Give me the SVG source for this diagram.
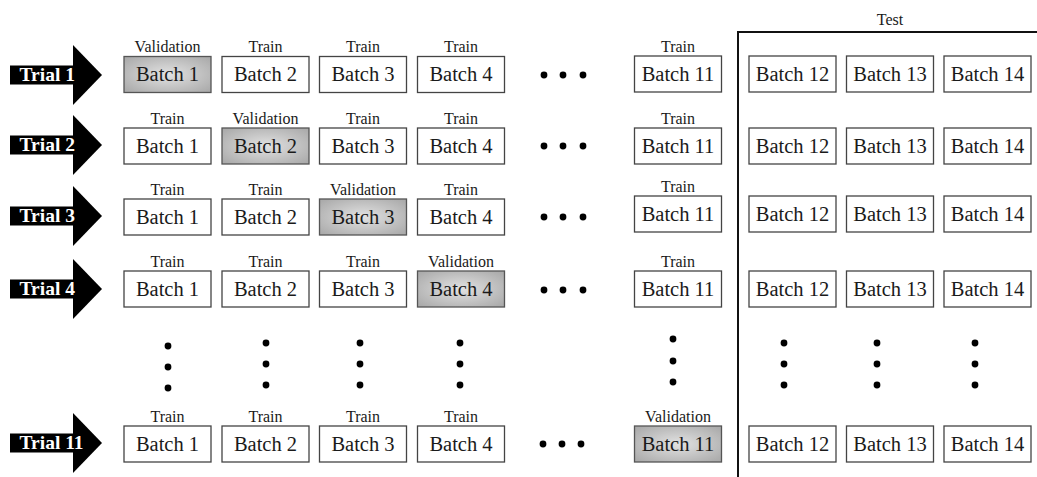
<svg xmlns="http://www.w3.org/2000/svg" width="1037" height="477" viewBox="0 0 1037 477">
  <defs>
    <radialGradient id="valFill" cx="50%" cy="50%" r="65%">
      <stop offset="0" stop-color="#e2e2e2"/>
      <stop offset="1" stop-color="#ababab"/>
    </radialGradient>
    <style>
      .box { fill: #fff; stroke: #444; stroke-width: 1.3; }
      .val { fill: url(#valFill); stroke: #555; stroke-width: 1.3; }
      .bt { font-family: "Liberation Serif", "Times New Roman", serif; font-size: 20.5px; fill: #1a1a1a; text-anchor: middle; }
      .lb { font-family: "Liberation Serif", "Times New Roman", serif; font-size: 16px; fill: #1a1a1a; text-anchor: middle; }
      .tr { font-family: "Liberation Serif", "Times New Roman", serif; font-size: 19.5px; font-weight: bold; fill: #fff; }
      .dot { fill: #000; }
      .arrow { fill: #000; }
    </style>
    <g id="arrowShape">
      <rect x="10" y="-9.5" width="64" height="19" class="arrow"/>
      <polygon points="73,-30 102,0 73,30" class="arrow"/>
    </g>
  </defs>

  <rect width="1037" height="477" fill="#fff"/>

  <!-- Test region bracket -->
  <g id="test-region">
    <path d="M738,477 V32 H1037" fill="none" stroke="#111" stroke-width="2"/>
    <text class="lb" x="890" y="25">Test</text>
  </g>

  <!-- Trial arrows -->
  <g id="trial-1"><use href="#arrowShape" transform="translate(0,75)"/><text class="tr" x="19.5" y="81">Trial 1</text></g>
  <g id="trial-2"><use href="#arrowShape" transform="translate(0,145)"/><text class="tr" x="19.5" y="151">Trial 2</text></g>
  <g id="trial-3"><use href="#arrowShape" transform="translate(0,216)"/><text class="tr" x="19.5" y="222">Trial 3</text></g>
  <g id="trial-4"><use href="#arrowShape" transform="translate(0,289)"/><text class="tr" x="19.5" y="295">Trial 4</text></g>
  <g id="trial-11"><use href="#arrowShape" transform="translate(0,443)"/><text class="tr" x="19.5" y="449">Trial 11</text></g>

  <!-- Row 1 -->
  <g id="r1-b1"><text class="lb" x="167.5" y="52">Validation</text><rect class="val" x="124" y="56.5" width="87" height="36"/><text class="bt" x="167.5" y="81">Batch 1</text></g>
  <g id="r1-b2"><text class="lb" x="265.5" y="52">Train</text><rect class="box" x="222" y="56.5" width="87" height="36"/><text class="bt" x="265.5" y="81">Batch 2</text></g>
  <g id="r1-b3"><text class="lb" x="363" y="52">Train</text><rect class="box" x="319.5" y="56.5" width="87" height="36"/><text class="bt" x="363" y="81">Batch 3</text></g>
  <g id="r1-b4"><text class="lb" x="461" y="52">Train</text><rect class="box" x="417.5" y="56.5" width="87" height="36"/><text class="bt" x="461" y="81">Batch 4</text></g>
  <g id="r1-b11"><text class="lb" x="678" y="51.5">Train</text><rect class="box" x="634.5" y="56" width="87" height="36"/><text class="bt" x="678" y="80.5">Batch 11</text></g>
  <g id="r1-b12"><rect class="box" x="749" y="56" width="87" height="36"/><text class="bt" x="792.5" y="80.5">Batch 12</text></g>
  <g id="r1-b13"><rect class="box" x="846.5" y="56" width="87" height="36"/><text class="bt" x="890" y="80.5">Batch 13</text></g>
  <g id="r1-b14"><rect class="box" x="944" y="56" width="87" height="36"/><text class="bt" x="987.5" y="80.5">Batch 14</text></g>

  <!-- Row 2 -->
  <g id="r2-b1"><text class="lb" x="167.5" y="123.5">Train</text><rect class="box" x="124" y="128" width="87" height="36"/><text class="bt" x="167.5" y="152.5">Batch 1</text></g>
  <g id="r2-b2"><text class="lb" x="265.5" y="123.5">Validation</text><rect class="val" x="222" y="128" width="87" height="36"/><text class="bt" x="265.5" y="152.5">Batch 2</text></g>
  <g id="r2-b3"><text class="lb" x="363" y="123.5">Train</text><rect class="box" x="319.5" y="128" width="87" height="36"/><text class="bt" x="363" y="152.5">Batch 3</text></g>
  <g id="r2-b4"><text class="lb" x="461" y="123.5">Train</text><rect class="box" x="417.5" y="128" width="87" height="36"/><text class="bt" x="461" y="152.5">Batch 4</text></g>
  <g id="r2-b11"><text class="lb" x="678" y="123.5">Train</text><rect class="box" x="634.5" y="128" width="87" height="36"/><text class="bt" x="678" y="152.5">Batch 11</text></g>
  <g id="r2-b12"><rect class="box" x="749" y="128" width="87" height="36"/><text class="bt" x="792.5" y="152.5">Batch 12</text></g>
  <g id="r2-b13"><rect class="box" x="846.5" y="128" width="87" height="36"/><text class="bt" x="890" y="152.5">Batch 13</text></g>
  <g id="r2-b14"><rect class="box" x="944" y="128" width="87" height="36"/><text class="bt" x="987.5" y="152.5">Batch 14</text></g>

  <!-- Row 3 -->
  <g id="r3-b1"><text class="lb" x="167.5" y="194.5">Train</text><rect class="box" x="124" y="199" width="87" height="36"/><text class="bt" x="167.5" y="223.5">Batch 1</text></g>
  <g id="r3-b2"><text class="lb" x="265.5" y="194.5">Train</text><rect class="box" x="222" y="199" width="87" height="36"/><text class="bt" x="265.5" y="223.5">Batch 2</text></g>
  <g id="r3-b3"><text class="lb" x="363" y="194.5">Validation</text><rect class="val" x="319.5" y="199" width="87" height="36"/><text class="bt" x="363" y="223.5">Batch 3</text></g>
  <g id="r3-b4"><text class="lb" x="461" y="194.5">Train</text><rect class="box" x="417.5" y="199" width="87" height="36"/><text class="bt" x="461" y="223.5">Batch 4</text></g>
  <g id="r3-b11"><text class="lb" x="678" y="191.5">Train</text><rect class="box" x="634.5" y="196" width="87" height="36"/><text class="bt" x="678" y="220.5">Batch 11</text></g>
  <g id="r3-b12"><rect class="box" x="749" y="196" width="87" height="36"/><text class="bt" x="792.5" y="220.5">Batch 12</text></g>
  <g id="r3-b13"><rect class="box" x="846.5" y="196" width="87" height="36"/><text class="bt" x="890" y="220.5">Batch 13</text></g>
  <g id="r3-b14"><rect class="box" x="944" y="196" width="87" height="36"/><text class="bt" x="987.5" y="220.5">Batch 14</text></g>

  <!-- Row 4 -->
  <g id="r4-b1"><text class="lb" x="167.5" y="266.5">Train</text><rect class="box" x="124" y="271" width="87" height="36"/><text class="bt" x="167.5" y="295.5">Batch 1</text></g>
  <g id="r4-b2"><text class="lb" x="265.5" y="266.5">Train</text><rect class="box" x="222" y="271" width="87" height="36"/><text class="bt" x="265.5" y="295.5">Batch 2</text></g>
  <g id="r4-b3"><text class="lb" x="363" y="266.5">Train</text><rect class="box" x="319.5" y="271" width="87" height="36"/><text class="bt" x="363" y="295.5">Batch 3</text></g>
  <g id="r4-b4"><text class="lb" x="461" y="266.5">Validation</text><rect class="val" x="417.5" y="271" width="87" height="36"/><text class="bt" x="461" y="295.5">Batch 4</text></g>
  <g id="r4-b11"><text class="lb" x="678" y="266.5">Train</text><rect class="box" x="634.5" y="271" width="87" height="36"/><text class="bt" x="678" y="295.5">Batch 11</text></g>
  <g id="r4-b12"><rect class="box" x="749" y="271" width="87" height="36"/><text class="bt" x="792.5" y="295.5">Batch 12</text></g>
  <g id="r4-b13"><rect class="box" x="846.5" y="271" width="87" height="36"/><text class="bt" x="890" y="295.5">Batch 13</text></g>
  <g id="r4-b14"><rect class="box" x="944" y="271" width="87" height="36"/><text class="bt" x="987.5" y="295.5">Batch 14</text></g>

  <!-- Row 11 -->
  <g id="r11-b1"><text class="lb" x="167.5" y="421.5">Train</text><rect class="box" x="124" y="426" width="87" height="36"/><text class="bt" x="167.5" y="450.5">Batch 1</text></g>
  <g id="r11-b2"><text class="lb" x="265.5" y="421.5">Train</text><rect class="box" x="222" y="426" width="87" height="36"/><text class="bt" x="265.5" y="450.5">Batch 2</text></g>
  <g id="r11-b3"><text class="lb" x="363" y="421.5">Train</text><rect class="box" x="319.5" y="426" width="87" height="36"/><text class="bt" x="363" y="450.5">Batch 3</text></g>
  <g id="r11-b4"><text class="lb" x="461" y="421.5">Train</text><rect class="box" x="417.5" y="426" width="87" height="36"/><text class="bt" x="461" y="450.5">Batch 4</text></g>
  <g id="r11-b11"><text class="lb" x="678" y="421.5">Validation</text><rect class="val" x="634.5" y="426" width="87" height="36"/><text class="bt" x="678" y="450.5">Batch 11</text></g>
  <g id="r11-b12"><rect class="box" x="749" y="426" width="87" height="36"/><text class="bt" x="792.5" y="450.5">Batch 12</text></g>
  <g id="r11-b13"><rect class="box" x="846.5" y="426" width="87" height="36"/><text class="bt" x="890" y="450.5">Batch 13</text></g>
  <g id="r11-b14"><rect class="box" x="944" y="426" width="87" height="36"/><text class="bt" x="987.5" y="450.5">Batch 14</text></g>

  <!-- Ellipsis dots between Batch 4 and Batch 11 -->
  <g id="row-ellipses">
    <circle class="dot" cx="544" cy="75" r="3.4"/><circle class="dot" cx="563" cy="75" r="3.4"/><circle class="dot" cx="583" cy="75" r="3.4"/>
    <circle class="dot" cx="544" cy="146" r="3.4"/><circle class="dot" cx="563" cy="146" r="3.4"/><circle class="dot" cx="583" cy="146" r="3.4"/>
    <circle class="dot" cx="544" cy="217" r="3.4"/><circle class="dot" cx="563" cy="217" r="3.4"/><circle class="dot" cx="583" cy="217" r="3.4"/>
    <circle class="dot" cx="544" cy="290" r="3.4"/><circle class="dot" cx="563" cy="290" r="3.4"/><circle class="dot" cx="583" cy="290" r="3.4"/>
    <circle class="dot" cx="543" cy="444" r="3.4"/><circle class="dot" cx="562" cy="444" r="3.4"/><circle class="dot" cx="581" cy="444" r="3.4"/>
  </g>

  <!-- Vertical ellipsis dots between Trial 4 and Trial 11 -->
  <g id="column-ellipses">
    <circle class="dot" cx="168" cy="346" r="3.4"/><circle class="dot" cx="168" cy="367" r="3.4"/><circle class="dot" cx="168" cy="388" r="3.4"/>
    <circle class="dot" cx="266" cy="343" r="3.4"/><circle class="dot" cx="266" cy="364" r="3.4"/><circle class="dot" cx="266" cy="385" r="3.4"/>
    <circle class="dot" cx="360" cy="343" r="3.4"/><circle class="dot" cx="360" cy="364" r="3.4"/><circle class="dot" cx="360" cy="385" r="3.4"/>
    <circle class="dot" cx="460" cy="343" r="3.4"/><circle class="dot" cx="460" cy="364" r="3.4"/><circle class="dot" cx="460" cy="385" r="3.4"/>
    <circle class="dot" cx="673" cy="339" r="3.4"/><circle class="dot" cx="673" cy="361" r="3.4"/><circle class="dot" cx="673" cy="382" r="3.4"/>
    <circle class="dot" cx="784" cy="343" r="3.4"/><circle class="dot" cx="784" cy="364" r="3.4"/><circle class="dot" cx="784" cy="385" r="3.4"/>
    <circle class="dot" cx="877" cy="343" r="3.4"/><circle class="dot" cx="877" cy="364" r="3.4"/><circle class="dot" cx="877" cy="385" r="3.4"/>
    <circle class="dot" cx="975" cy="343" r="3.4"/><circle class="dot" cx="975" cy="364" r="3.4"/><circle class="dot" cx="975" cy="385" r="3.4"/>
  </g>
</svg>
